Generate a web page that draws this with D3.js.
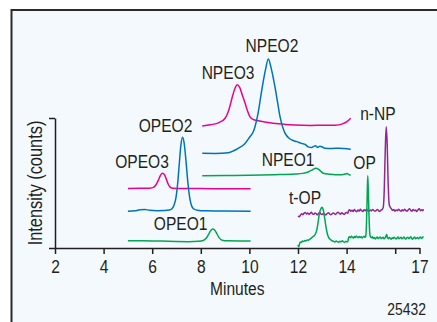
<!DOCTYPE html>
<html>
<head>
<meta charset="utf-8">
<script src="https://cdn.jsdelivr.net/npm/d3@7"></script>
<style>
  html, body { margin: 0; padding: 0; background: #ffffff; }
  svg { display: block; }
  text { font-family: "Liberation Sans", Arial, sans-serif; fill: #231f20; }
</style>
</head>
<body>
<svg id="chart" width="437" height="322"></svg>
<script>
// Retention time (minutes) and stacked intensity for each trace.
const opeo3 = [[5.0,45.8],[5.5,45.9],[5.9,46.0],[6.05,46.6],[6.15,48.5],[6.25,52.0],[6.33,55.5],[6.42,57.5],[6.5,56.5],[6.58,53.0],[6.66,49.0],[6.75,46.6],[6.85,45.9],[7.2,45.7],[8.0,45.7],[9.0,45.6],[10.05,45.6]];
const opeo2 = [[5.0,28.3],[5.3,28.6],[5.5,29.5],[5.7,29.7],[5.9,29.0],[6.2,28.7],[6.5,28.8],[6.7,29.2],[6.8,30.0],[6.9,33.0],[6.98,39],[7.05,50],[7.12,66],[7.18,79],[7.25,85.2],[7.32,80],[7.39,67],[7.47,50],[7.55,38],[7.63,32],[7.72,30],[7.85,29.1],[8.2,28.6],[9.0,28.4],[10.05,28.2]];
const opeo1 = [[5.0,5.6],[5.6,5.6],[6.4,5.3],[7.0,5.0],[7.5,4.9],[7.9,5.2],[8.1,5.8],[8.22,7.5],[8.32,10.5],[8.41,13.5],[8.49,14.6],[8.57,13.8],[8.66,11.0],[8.76,7.8],[8.88,6.0],[9.1,5.5],[9.6,5.4],[10.05,5.4]];
const npeo3 = [[8.06,93.8],[8.4,94.8],[8.75,96.5],[9.0,99.8],[9.15,106],[9.28,115],[9.4,122.5],[9.5,125.6],[9.6,123.5],[9.72,117],[9.82,111.5],[9.92,105.5],[10.02,101],[10.15,99],[10.37,97.9],[10.7,96.8],[11.2,95.5],[11.88,94.6],[12.5,94.3],[13.0,94.4],[13.53,94.5],[13.8,95.3],[14.0,97],[14.17,99.8]];
const npeo2 = [[8.06,72.8],[8.6,72.7],[9.13,73.3],[9.35,74.8],[9.54,76.7],[9.8,80.0],[10.02,85.6],[10.15,89],[10.23,93.3],[10.35,103],[10.51,121.5],[10.65,136],[10.78,145.4],[10.9,138],[11.05,124.1],[11.16,112],[11.26,101],[11.37,93],[11.47,88.2],[11.6,85],[11.74,83.1],[11.95,81.8],[12.15,80.5],[12.3,79.6],[12.42,77.8],[12.55,77.3],[12.65,78.2],[12.72,78.6],[12.8,77.5],[12.9,78.2],[12.98,77.9],[13.1,76.8],[13.4,76.6],[13.7,76.8],[13.9,76.5],[14.17,76.0]];
const npeo1 = [[8.06,55.6],[9.0,55.8],[10.0,56.0],[11.0,56.4],[11.88,56.9],[12.2,57.4],[12.42,58.5],[12.6,60.2],[12.73,61.3],[12.85,60.5],[12.95,58.8],[13.04,57.5],[13.3,56.8],[13.52,56.4],[13.8,56.3],[13.95,56.9],[14.02,57.4],[14.08,56.6],[14.17,55.9]];
const nNP = [[12.00,24.5],[12.05,24.0],[12.10,25.2],[12.15,26.3],[12.20,25.6],[12.25,26.8],[12.30,27.4],[12.35,26.1],[12.40,26.9],[12.45,25.8],[12.50,26.6],[12.55,27.5],[12.60,26.2],[12.65,25.9],[12.70,27.0],[12.75,26.4],[12.80,25.5],[12.85,26.7],[12.90,27.3],[12.95,26.0],[13.00,25.7],[13.05,26.8],[13.10,26.1],[13.15,25.4],[13.20,26.5],[13.25,27.1],[13.30,26.3],[13.35,25.6],[13.40,26.2],[13.45,27.0],[13.50,26.4],[13.55,25.8],[13.60,26.9],[13.65,27.5],[13.70,26.6],[13.75,26.0],[13.80,27.2],[13.85,26.5],[13.90,25.9],[13.95,26.8],[14.00,27.4],[14.05,26.7],[14.08,28.6],[14.12,29.5],[14.17,28.3],[14.22,29.1],[14.27,28.0],[14.32,29.6],[14.37,28.5],[14.42,27.9],[14.47,29.3],[14.52,28.4],[14.57,29.8],[14.62,28.7],[14.67,28.1],[14.72,29.4],[14.77,28.6],[14.82,29.9],[14.87,28.8],[14.92,28.2],[14.97,29.2],[15.02,28.5],[15.07,29.6],[15.12,28.9],[15.17,28.3],[15.22,29.0],[15.27,29.7],[15.32,28.6],[15.37,28.1],[15.42,29.2],[15.47,29.8],[15.51,31.5],[15.55,45],[15.59,75],[15.63,93.3],[15.67,80],[15.71,50],[15.75,34],[15.79,31.5],[15.84,30.2],[15.89,29.0],[15.94,29.6],[15.99,28.4],[16.04,29.3],[16.09,28.7],[16.14,29.8],[16.19,28.9],[16.24,28.2],[16.29,29.5],[16.34,28.6],[16.39,29.9],[16.44,28.8],[16.49,28.3],[16.54,29.4],[16.59,30.1],[16.64,28.9],[16.69,28.4],[16.74,29.6],[16.79,28.8],[16.84,29.2],[16.89,28.0],[16.94,29.5],[16.99,30.2],[17.04,28.7],[17.09,29.4],[17.14,28.6],[17.16,29.8]];
const opTrace = [[12.00,2.5],[12.03,1.0],[12.06,2.8],[12.09,4.6],[12.13,4.2],[12.18,5.3],[12.23,5.0],[12.28,5.8],[12.33,5.4],[12.38,6.2],[12.43,6.0],[12.49,6.9],[12.55,7.6],[12.62,8.8],[12.70,10.2],[12.76,13.0],[12.80,16.4],[12.84,21.5],[12.88,26.7],[12.95,30.5],[12.99,31.3],[13.04,29.2],[13.10,22.8],[13.15,16.4],[13.22,10.0],[13.32,6.7],[13.40,5.6],[13.47,5.1],[13.52,4.6],[13.57,5.3],[13.62,4.8],[13.67,4.4],[13.72,5.2],[13.77,4.7],[13.82,5.5],[13.87,4.9],[13.92,4.3],[13.97,5.1],[14.02,4.6],[14.06,5.4],[14.08,7.8],[14.12,8.6],[14.16,7.9],[14.20,9.1],[14.24,8.2],[14.28,7.6],[14.32,8.8],[14.36,8.0],[14.40,9.3],[14.44,8.4],[14.48,7.8],[14.52,8.9],[14.56,8.1],[14.60,8.7],[14.64,7.7],[14.68,8.5],[14.72,9.0],[14.76,8.2],[14.79,9.2],[14.82,20],[14.85,42],[14.87,55.6],[14.89,46],[14.92,26],[14.95,12],[14.98,8.7],[15.02,7.9],[15.06,8.6],[15.10,7.4],[15.14,8.1],[15.18,7.0],[15.22,7.8],[15.26,8.4],[15.30,7.2],[15.34,7.9],[15.38,8.5],[15.42,7.3],[15.46,7.7],[15.50,8.3],[15.54,7.1],[15.58,7.6],[15.62,9.2],[15.65,10.3],[15.68,8.0],[15.72,7.2],[15.76,8.1],[15.80,7.4],[15.84,6.8],[15.88,7.9],[15.92,7.3],[15.96,8.2],[16.00,7.5],[16.04,6.9],[16.08,7.8],[16.12,8.4],[16.16,7.2],[16.20,7.7],[16.24,8.3],[16.28,7.0],[16.32,7.6],[16.36,8.5],[16.40,7.4],[16.44,6.9],[16.48,7.9],[16.52,8.2],[16.56,7.1],[16.60,7.7],[16.64,8.6],[16.68,7.3],[16.72,6.8],[16.76,7.8],[16.80,8.4],[16.84,7.2],[16.88,7.6],[16.92,8.0],[16.96,7.1],[17.00,7.9],[17.04,8.5],[17.08,7.3],[17.12,7.8],[17.16,8.9]];

// Peak annotations: text, minute, intensity at the text baseline.
const peakNames = ["NPEO2","NPEO3","OPEO2","OPEO3","OPEO1","NPEO1","n-NP","OP","t-OP"];
const peakMinutes = [10.93, 9.12, 6.55, 5.58, 7.17, 11.59, 15.29, 14.74, 12.29];
const peakLevels = [151, 130, 89.5, 61.3, 13.8, 63.3, 98.5, 60.5, 33.8];

// Axis ticks.
const xTicks = [2, 4, 6, 8, 10, 12, 14, 16, 17];
const xTickLabels = ["2", "4", "6", "8", "10", "12", "14", "", "17"];
const yTicks = [0, 100];

const pink = "#ec008c", blue = "#0072bc", green = "#00a651", purple = "#92278f";
const traces = [
  { data: opeo3, color: pink },
  { data: opeo2, color: blue },
  { data: opeo1, color: green },
  { data: npeo3, color: pink },
  { data: npeo2, color: blue },
  { data: npeo1, color: green },
  { data: nNP, color: purple },
  { data: opTrace, color: green }
];

const svg = d3.select("#chart");
const ink = "#231f20";
const narrow = "scale(0.82,1)";   // condensed lettering

// Panel background and frame
svg.append("rect").attr("x", 11).attr("y", 10).attr("width", 426).attr("height", 312).attr("fill", "#f4f9fd");
svg.append("path").attr("d", "M11.5,322V10H437").attr("fill", "none").attr("stroke", "#2b2b2b").attr("stroke-width", 2);

const x = d3.scaleLinear().domain([2, 17]).range([55, 419.5]);
const y = d3.scaleLinear().domain([0, 100]).range([248, 118]);

const line = d3.line().x(d => x(d[0])).y(d => y(d[1])).curve(d3.curveMonotoneX);

svg.append("g").selectAll("path").data(traces).join("path")
  .attr("d", d => line(d.data))
  .attr("fill", "none")
  .attr("stroke", d => d.color)
  .attr("stroke-width", 1.5)
  .attr("stroke-linejoin", "round");

// Axes
const xAxis = svg.append("g").attr("transform", `translate(0,${y(0)})`)
  .call(d3.axisBottom(x).tickValues(xTicks).tickSize(6).tickSizeOuter(0).tickPadding(6)
    .tickFormat((d, i) => xTickLabels[i]));
const yAxis = svg.append("g").attr("transform", `translate(${x(2)},0)`)
  .call(d3.axisLeft(y).tickValues(yTicks).tickSize(6).tickSizeOuter(0).tickFormat(""));

[xAxis, yAxis].forEach(g => {
  g.selectAll("path, line").attr("stroke", ink).attr("stroke-width", 1.5);
  g.selectAll("text").attr("fill", ink).attr("transform", narrow)
    .style("font-size", "19px").style("font-family", "'Liberation Sans', Arial, sans-serif");
});

svg.append("text")
  .attr("transform", `translate(${(x(2) + x(17)) / 2},295) ${narrow}`)
  .attr("text-anchor", "middle").style("font-size", "19px").text("Minutes");

svg.append("text")
  .attr("transform", `translate(41.5,${(y(0) + y(100)) / 2}) rotate(-90) ${narrow}`)
  .attr("text-anchor", "middle").style("font-size", "20px").text("Intensity (counts)");

svg.append("text")
  .attr("transform", `translate(426,315) ${narrow}`)
  .attr("text-anchor", "end").style("font-size", "17px").text("25432");

// Peak names
svg.append("g").selectAll("text").data(peakNames).join("text")
  .attr("transform", (d, i) => `translate(${x(peakMinutes[i])},${y(peakLevels[i])}) ${narrow}`)
  .attr("text-anchor", "middle")
  .style("font-size", "19px")
  .text(d => d);
</script>
</body>
</html>
